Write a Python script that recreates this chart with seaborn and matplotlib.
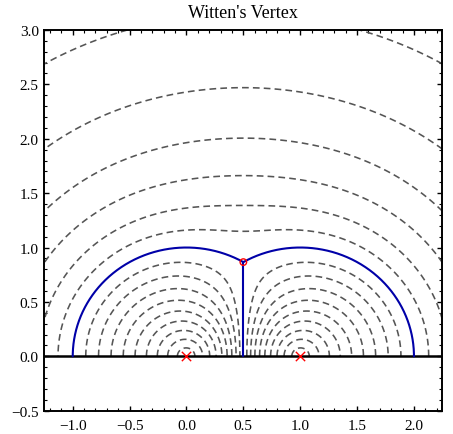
import numpy as np
import pandas as pd
import matplotlib
matplotlib.use("Agg")
import matplotlib.pyplot as plt
from matplotlib.ticker import MultipleLocator, FuncFormatter
import seaborn as sns

# ---------------- data ----------------
title = "Witten's Vertex"
contour_levels = [0.1, 0.2, 0.3, 0.4, 0.5, 0.6, 0.7, 0.8, 0.9]   # |w| of local coordinates
patch_angles_deg = [0.0, 120.0, -120.0]        # punctures at infinity, 0, 1 (disk picture)
boundary_angles_deg = [60.0, -60.0, 180.0]     # rays separating the three patches
puncture_x = [0.0, 1.0]
puncture_y = [0.0, 0.0]
vertex_x = [0.5]
vertex_y = [0.866]
x_limits = [-1.25, 2.25]
y_limits = [-0.5, 3.0]
x_ticks = [-1.0, -0.5, 0.0, 0.5, 1.0, 1.5, 2.0]
y_ticks = [-0.5, 0.0, 0.5, 1.0, 1.5, 2.0, 2.5, 3.0]

# ---------------- style ----------------
sns.set_theme(style="ticks")
plt.rcParams['font.family'] = ['Liberation Serif', 'DejaVu Serif']
plt.rcParams['axes.unicode_minus'] = True

rho = np.exp(1j * np.pi / 3)


def local_modulus(z):
    zeta = (z - rho) / (z - np.conj(rho))
    ang = np.angle(zeta)
    best = None
    for a in np.deg2rad(patch_angles_deg):
        phi = np.angle(np.exp(1j * (ang - a)))
        best = phi if best is None else np.where(np.abs(phi) < np.abs(best), phi, best)
    u = np.abs(zeta) ** 1.5 * np.exp(1.5j * best)
    return np.abs(u - 1) / np.abs(u + 1)


xs = np.linspace(x_limits[0], x_limits[1], 900)
ys = np.linspace(0.0, y_limits[1], 800)
X, Y = np.meshgrid(xs, ys)
W = local_modulus(X + 1j * Y)

# boundary curves: images of the patch-separating rays
s = np.linspace(0.0, 1.0, 600)
rows = []
for k, th in enumerate(np.deg2rad(boundary_angles_deg)):
    zeta = s * np.exp(1j * th)
    zc = (rho - np.conj(rho) * zeta) / (1 - zeta)
    for xv, yv in zip(zc.real, zc.imag):
        rows.append((k, xv, yv))
bdf = pd.DataFrame(rows, columns=["curve", "x", "y"])

fig = plt.figure(figsize=(4.53, 4.35), dpi=100)
ax = fig.add_axes([0.0978, 0.0536, 0.8788, 0.8752])

ax.contour(X, Y, W, levels=contour_levels, colors="#555555",
           linewidths=1.15, linestyles=[(0, (4.2, 2.6))])

ax.axhline(0.0, color="black", lw=1.8, zorder=3)

sns.lineplot(data=bdf, x="x", y="y", units="curve", estimator=None, sort=False,
             color="#0000a8", lw=1.5, ax=ax, zorder=4)

sns.scatterplot(x=puncture_x, y=puncture_y, marker="x", s=45, color="red",
                linewidth=1.0, ax=ax, zorder=5)
ax.scatter(vertex_x, vertex_y, s=22, facecolors="none", edgecolors="red",
           linewidths=1.0, zorder=6)

ax.set_xlim(x_limits)
ax.set_ylim(y_limits)
ax.set_xticks(x_ticks)
ax.set_yticks(y_ticks)
ax.xaxis.set_minor_locator(MultipleLocator(0.1))
ax.yaxis.set_minor_locator(MultipleLocator(0.1))
fmt = FuncFormatter(lambda v, p: f"{v:.1f}".replace('-', '\u2212'))
ax.xaxis.set_major_formatter(fmt)
ax.yaxis.set_major_formatter(fmt)
ax.tick_params(which="both", direction="in", top=True, right=True, color="black",
               labelsize=11, labelcolor="black")
ax.tick_params(which="major", length=3.6, width=1.0)
ax.tick_params(which="minor", length=2.0, width=0.8)
ax.tick_params(axis="x", pad=6)
ax.tick_params(axis="y", pad=4)
for sp in ax.spines.values():
    sp.set_visible(True)
    sp.set_color("black")
    sp.set_linewidth(1.4)
ax.set_xlabel("")
ax.set_ylabel("")
ax.set_title(title, fontsize=13, pad=9, color="black")

fig.savefig("out.png", dpi=100)
